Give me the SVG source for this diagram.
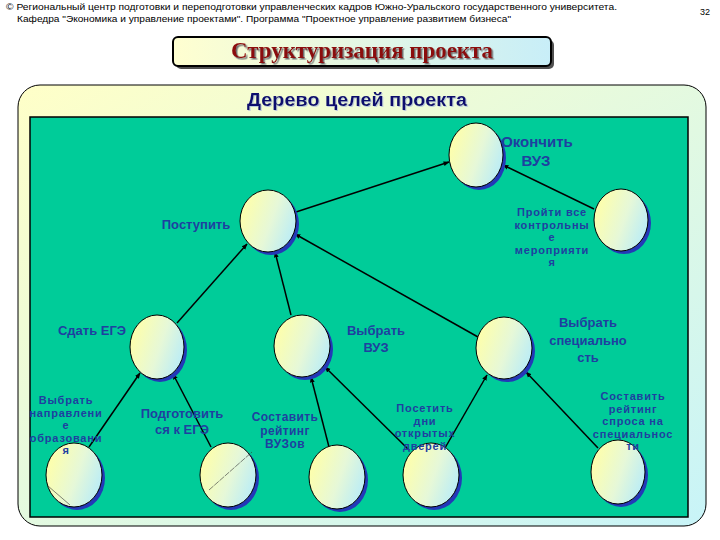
<svg xmlns="http://www.w3.org/2000/svg" width="720" height="540" viewBox="0 0 720 540">
<defs>
<linearGradient id="panel" x1="0" y1="0" x2="1" y2="1">
<stop offset="0" stop-color="#ffffc8"/>
<stop offset="1" stop-color="#c8f4f8"/>
</linearGradient>
<linearGradient id="tbox" x1="0" y1="0" x2="1" y2="0">
<stop offset="0" stop-color="#ffffd0"/>
<stop offset="1" stop-color="#c8eef8"/>
</linearGradient>
<linearGradient id="ball" x1="0" y1="0.3" x2="1" y2="0.7">
<stop offset="0" stop-color="#ffffa8"/>
<stop offset="0.55" stop-color="#e6f8d8"/>
<stop offset="1" stop-color="#b8ecf8"/>
</linearGradient>
<marker id="arr" viewBox="0 0 10 10" refX="9" refY="5" markerWidth="6" markerHeight="6" orient="auto" markerUnits="userSpaceOnUse">
<path d="M0,1 L10,5 L0,9 z" fill="#000"/>
</marker>
<filter id="tsh" x="-5%" y="-20%" width="110%" height="140%">
<feDropShadow dx="1.5" dy="1.5" stdDeviation="0.3" flood-color="#707070"/>
</filter>
<filter id="lsh" x="-5%" y="-20%" width="110%" height="140%">
<feDropShadow dx="1" dy="1" stdDeviation="0.2" flood-color="#b0c0e0" flood-opacity="0.8"/>
</filter>
</defs>
<style>
.hdr{font-family:"Liberation Sans",Arial,sans-serif;font-size:9px;fill:#000}
.lbl{font-family:"Liberation Sans",Arial,sans-serif;font-weight:bold;font-size:13px;fill:#1f3fa0;text-anchor:middle}
.big{font-size:15px}
.m{font-size:11px;letter-spacing:0.8px}
.m2{font-size:12px;letter-spacing:0.4px}
.conn line{stroke:#000;stroke-width:1.5;marker-end:url(#arr)}
.sh{fill:#2438b8}
.bl{fill:url(#ball);stroke:#000;stroke-width:1}
.art{stroke:#333;stroke-width:0.6;fill:none}
</style>
<rect width="720" height="540" fill="#ffffff"/>
<g id="header">
<text class="hdr" x="6" y="10" textLength="611" lengthAdjust="spacingAndGlyphs">© Региональный центр подготовки и переподготовки управленческих кадров Южно-Уральского государственного университета.</text>
<text class="hdr" x="17" y="22" textLength="494" lengthAdjust="spacingAndGlyphs">Кафедра "Экономика и управление проектами". Программа "Проектное управление развитием бизнеса"</text>
<text class="hdr" x="700" y="15" font-size="11">32</text>
</g>
<g id="title">
<rect x="176" y="40" width="378" height="29" rx="5" fill="#505050"/>
<rect x="173" y="37" width="378" height="29" rx="5" fill="url(#tbox)" stroke="#000" stroke-width="2"/>
<text x="362" y="58" text-anchor="middle" font-family="'Liberation Serif','Times New Roman',serif" font-weight="bold" font-size="23" fill="#8b0a0a" filter="url(#tsh)" textLength="262" lengthAdjust="spacingAndGlyphs">Структуризация проекта</text>
</g>
<g id="panel">
<rect x="18" y="85" width="688" height="441" rx="22" fill="url(#panel)" stroke="#000" stroke-width="1"/>
<text x="357" y="106" text-anchor="middle" font-family="'Liberation Sans',Arial,sans-serif" font-weight="bold" font-size="18" fill="#10106e" filter="url(#lsh)" textLength="220" lengthAdjust="spacingAndGlyphs">Дерево целей проекта</text>
<rect x="30" y="117" width="658" height="400" fill="#00cc99" stroke="#000" stroke-width="1.5"/>
</g>
<g id="connectors" class="conn">
<line x1="296" y1="212" x2="449" y2="162"/>
<line x1="594" y1="209" x2="503" y2="165"/>
<line x1="177" y1="323" x2="247" y2="244"/>
<line x1="291" y1="315" x2="275" y2="252"/>
<line x1="478" y1="337" x2="295" y2="234"/>
<line x1="89" y1="447" x2="140" y2="373"/>
<line x1="211" y1="447" x2="173" y2="374"/>
<line x1="329" y1="447" x2="311" y2="377"/>
<line x1="409" y1="450" x2="325" y2="367"/>
<line x1="445" y1="448" x2="487" y2="375"/>
<line x1="598" y1="448" x2="526" y2="372"/>
</g>
<g id="n-okonchit">
<ellipse class="sh" cx="479" cy="158" rx="27" ry="32"/>
<ellipse class="bl" cx="476" cy="155" rx="27" ry="32"/>
<text class="lbl big" x="537" y="147">Окончить</text>
<text class="lbl big" x="536" y="166">ВУЗ</text>
</g>
<g id="n-postupit">
<ellipse class="sh" cx="271" cy="224" rx="28" ry="31"/>
<ellipse class="bl" cx="268" cy="221" rx="28" ry="31"/>
<text class="lbl" x="196" y="229">Поступить</text>
</g>
<g id="n-proyti">
<ellipse class="sh" cx="624" cy="223" rx="27" ry="31"/>
<ellipse class="bl" cx="621" cy="220" rx="27" ry="31"/>
<text class="lbl m" x="552" y="216">Пройти все</text>
<text class="lbl m" x="552" y="228.5">контрольны</text>
<text class="lbl m" x="552" y="241">е</text>
<text class="lbl m" x="552" y="253.5">мероприяти</text>
<text class="lbl m" x="552" y="266">я</text>
</g>
<g id="n-sdat">
<ellipse class="sh" cx="160" cy="350" rx="27" ry="32"/>
<ellipse class="bl" cx="157" cy="347" rx="27" ry="32"/>
<text class="lbl" x="92" y="335">Сдать ЕГЭ</text>
</g>
<g id="n-vybrat-vuz">
<ellipse class="sh" cx="305" cy="349" rx="28" ry="31"/>
<ellipse class="bl" cx="302" cy="346" rx="28" ry="31"/>
<text class="lbl" x="376" y="335">Выбрать</text>
<text class="lbl" x="376" y="352">ВУЗ</text>
</g>
<g id="n-vybrat-spec">
<ellipse class="sh" cx="507" cy="351" rx="28" ry="31"/>
<ellipse class="bl" cx="504" cy="348" rx="28" ry="31"/>
<text class="lbl" x="588" y="327">Выбрать</text>
<text class="lbl" x="588" y="345">специально</text>
<text class="lbl" x="588" y="362">сть</text>
</g>
<g id="n-napr">
<ellipse class="sh" cx="77" cy="478" rx="28" ry="32"/>
<ellipse class="bl" cx="74" cy="475" rx="28" ry="32"/>
<line class="art" x1="48" y1="486" x2="70" y2="505"/>
<text class="lbl m" x="66" y="404">Выбрать</text>
<text class="lbl m" x="66" y="416.5">направлени</text>
<text class="lbl m" x="66" y="429">е</text>
<text class="lbl m" x="66" y="441.5">образовани</text>
<text class="lbl m" x="66" y="454">я</text>
</g>
<g id="n-podgot">
<ellipse class="sh" cx="231" cy="478" rx="28" ry="32"/>
<ellipse class="bl" cx="228" cy="475" rx="28" ry="32"/>
<line class="art" x1="209" y1="490" x2="252" y2="452" stroke-dasharray="6,1"/>
<text class="lbl" x="182" y="418">Подготовить</text>
<text class="lbl" x="182" y="434">ся к ЕГЭ</text>
</g>
<g id="n-reit-vuz">
<ellipse class="sh" cx="340" cy="480" rx="28" ry="32"/>
<ellipse class="bl" cx="337" cy="477" rx="28" ry="32"/>
<text class="lbl m2" x="285" y="421">Составить</text>
<text class="lbl m2" x="285" y="434.5">рейтинг</text>
<text class="lbl m2" x="285" y="448">ВУЗов</text>
</g>
<g id="n-poset">
<ellipse class="sh" cx="434" cy="478" rx="28" ry="32"/>
<ellipse class="bl" cx="431" cy="475" rx="28" ry="32"/>
<text class="lbl m" x="425" y="412">Посетить</text>
<text class="lbl m" x="425" y="424.7">дни</text>
<text class="lbl m" x="425" y="437.4">открытых</text>
<text class="lbl m" x="425" y="450">дверей</text>
</g>
<g id="n-reit-spec">
<ellipse class="sh" cx="621" cy="475" rx="27" ry="32"/>
<ellipse class="bl" cx="618" cy="472" rx="27" ry="32"/>
<text class="lbl m" x="633" y="400">Составить</text>
<text class="lbl m" x="633" y="412.5">рейтинг</text>
<text class="lbl m" x="633" y="425">спроса на</text>
<text class="lbl m" x="633" y="437.5">специальнос</text>
<text class="lbl m" x="633" y="450">ти</text>
</g>
</svg>
